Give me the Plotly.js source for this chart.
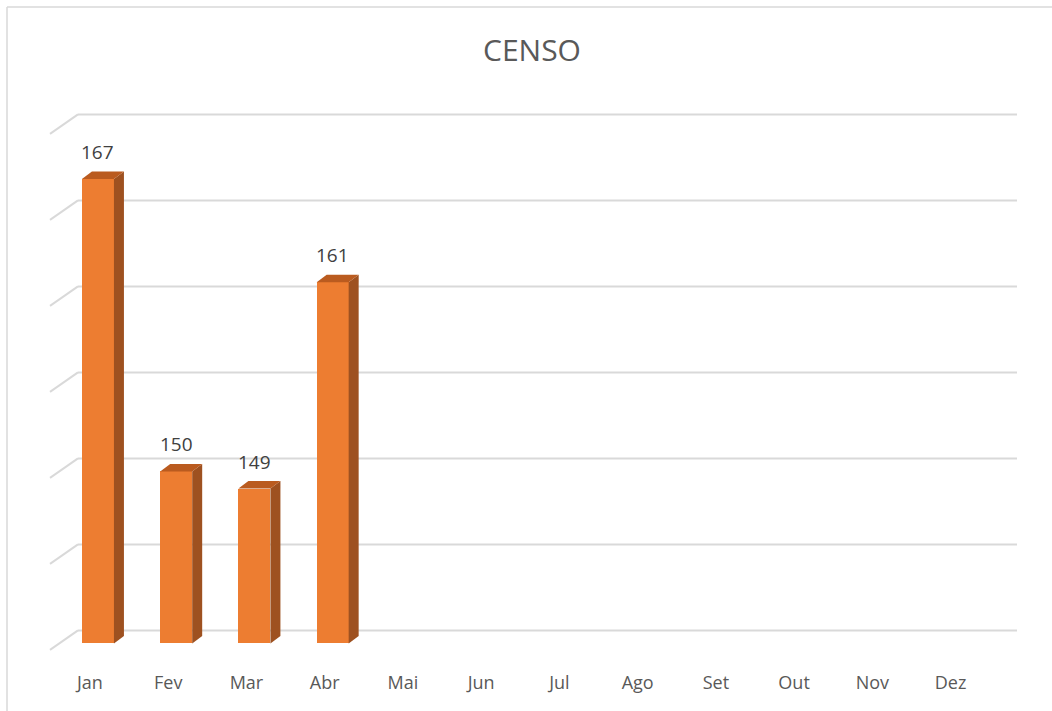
<!DOCTYPE html>
<html>
<head>
<meta charset="utf-8">
<script src="https://cdn.plot.ly/plotly-3.0.1.min.js"></script>
<style>
  html, body { margin: 0; padding: 0; background: #ffffff; }
  #chart { width: 1052px; height: 711px; }
</style>
</head>
<body>
<div id="chart"></div>
<script>
// ---- data ----
const months = ['Jan', 'Fev', 'Mar', 'Abr', 'Mai', 'Jun', 'Jul', 'Ago', 'Set', 'Out', 'Nov', 'Dez'];
const censoValues = [167, 150, 149, 161];
const gridValues = [140, 145, 150, 155, 160, 165, 170];
const chartTitle = 'CENSO';

// ---- geometry / style constants ----
const W = 1052, H = 711;
const M = { l: 43, r: 31, t: 93, b: 59 };
const X_RANGE = [-0.6, 11.9];
const Y_RANGE = [139.5, 172];
const BASE = 140;
const plotW = W - M.l - M.r, plotH = H - M.t - M.b;
const pxPerX = plotW / (X_RANGE[1] - X_RANGE[0]);
const pxPerY = plotH / (Y_RANGE[1] - Y_RANGE[0]);
const BAR_OFFSET = -8 / pxPerX;      // front face left edge relative to category
const BAR_WIDTH = 32 / pxPerX;       // front face width
const DEPTH_DX = 10 / pxPerX;        // bar side depth
const DEPTH_DY = 7.5 / pxPerY;
const WALL_BACK = 13 / pxPerY;       // back wall shift upwards
const WALL_FRONT = 6.5 / pxPerY;     // front floor edge shift downwards
const xFromPx = px => X_RANGE[0] + (px - M.l) / pxPerX;
const paperX = px => (px - M.l) / plotW;
const paperY = py => 1 - (py - M.t) / plotH;

const FRONT = '#ED7D31', SIDE = '#9E5120', TOP = '#BA5B1F';
const GRID = '#d9d9d9';

const idx = censoValues.map((_, i) => i);

const traces = [];
// front faces
traces.push({
  type: 'bar',
  x: idx,
  y: censoValues.map(v => v - BASE),
  base: BASE,
  width: BAR_WIDTH,
  offset: BAR_OFFSET,
  marker: { color: FRONT, line: { width: 0 } },
  hoverinfo: 'skip',
  showlegend: false
});
// side and top faces
censoValues.forEach((v, i) => {
  const xl = i + BAR_OFFSET, xr = xl + BAR_WIDTH;
  traces.push({
    type: 'scatter', mode: 'lines', fill: 'toself', fillcolor: SIDE,
    line: { width: 0, color: SIDE },
    x: [xr, xr + DEPTH_DX, xr + DEPTH_DX, xr, xr],
    y: [BASE, BASE + DEPTH_DY, v + DEPTH_DY, v, BASE],
    hoverinfo: 'skip', showlegend: false
  });
  traces.push({
    type: 'scatter', mode: 'lines', fill: 'toself', fillcolor: TOP,
    line: { width: 0, color: TOP },
    x: [xl, xl + DEPTH_DX, xr + DEPTH_DX, xr, xl],
    y: [v, v + DEPTH_DY, v + DEPTH_DY, v, v],
    hoverinfo: 'skip', showlegend: false
  });
});

const shapes = [];
// back-wall gridlines and the perspective floor/side edges
gridValues.forEach(g => {
  shapes.push({
    type: 'line', xref: 'x', yref: 'y', layer: 'below',
    x0: xFromPx(78), x1: xFromPx(1017), y0: g + WALL_BACK, y1: g + WALL_BACK,
    line: { color: GRID, width: 2 }
  });
  shapes.push({
    type: 'line', xref: 'x', yref: 'y', layer: 'below',
    x0: xFromPx(50), x1: xFromPx(78), y0: g - WALL_FRONT, y1: g + WALL_BACK,
    line: { color: GRID, width: 2 }
  });
});
// chart frame (left and top edges)
shapes.push({
  type: 'line', xref: 'paper', yref: 'paper',
  x0: paperX(7), x1: paperX(7), y0: paperY(7), y1: paperY(H + 5),
  line: { color: GRID, width: 1.5 }
});
shapes.push({
  type: 'line', xref: 'paper', yref: 'paper',
  x0: paperX(7), x1: paperX(W + 5), y0: paperY(7), y1: paperY(7),
  line: { color: GRID, width: 1.5 }
});

const annotations = censoValues.map((v, i) => ({
  x: i + BAR_OFFSET + BAR_WIDTH / 2,
  y: v,
  xref: 'x', yref: 'y',
  text: String(v),
  showarrow: false,
  yanchor: 'bottom',
  yshift: 12,
  font: { family: 'Open Sans, sans-serif', size: 19, color: '#404040' }
}));

const layout = {
  width: W, height: H,
  margin: M,
  paper_bgcolor: '#ffffff',
  plot_bgcolor: 'rgba(0,0,0,0)',
  showlegend: false,
  title: {
    text: chartTitle,
    x: 0.5, xref: 'paper',
    y: 1 - 50 / H, yref: 'container', yanchor: 'middle',
    font: { family: 'Open Sans, sans-serif', size: 30, color: '#595959' }
  },
  xaxis: {
    range: X_RANGE,
    tickmode: 'array',
    tickvals: months.map((_, i) => i),
    ticktext: months,
    showgrid: false, zeroline: false, showline: false,
    ticks: '',
    ticklabelstandoff: 18,
    tickfont: { family: 'Open Sans, sans-serif', size: 18, color: '#595959' },
    fixedrange: true
  },
  yaxis: {
    range: Y_RANGE,
    showgrid: false, zeroline: false, showline: false,
    showticklabels: false, ticks: '',
    fixedrange: true
  },
  bargap: 0,
  shapes: shapes,
  annotations: annotations
};

Plotly.newPlot('chart', traces, layout, { displayModeBar: false, staticPlot: true });
</script>
</body>
</html>
